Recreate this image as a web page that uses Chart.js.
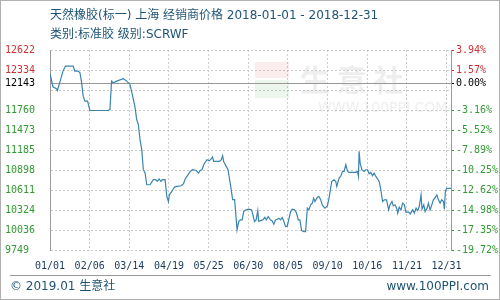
<!DOCTYPE html>
<html>
<head>
<meta charset="utf-8">
<script src="https://cdn.jsdelivr.net/npm/chart.js@4.4.1/dist/chart.umd.min.js"></script>
<style>
  html, body { margin: 0; padding: 0; background: #fff; }
  #wrap { width: 500px; height: 300px; }
</style>
</head>
<body>
<div id="wrap"><canvas id="grafica" width="500" height="300"></canvas></div>
<script>
// textos del encabezado y pie
const titulo1 = "天然橡胶(标一) 上海 经销商价格 2018-01-01 - 2018-12-31";
const titulo2 = "类别:标准胶 级别:SCRWF";
const pieIzq = "© 2019.01 生意社";
const pieDer = "www.100PPI.com";

// eje X: posicion (dias en escala de 360) y etiquetas
const diasTicks = [0, 36, 72, 108, 144, 180, 216, 252, 288, 324, 360];
const fechas = ["01/01", "02/06", "03/14", "04/19", "05/25", "06/30", "08/05", "09/10", "10/16", "11/21", "12/31"];

// eje Y: valores, etiquetas de precio y de porcentaje
const precioBase = 12143;
const yTicks = [12622, 12334, 12143, 12047, 11760, 11473, 11185, 10898, 10611, 10324, 10036, 9749];
const yEtiquetas = ["12622", "12334", "12143", "", "11760", "11473", "11185", "10898", "10611", "10324", "10036", "9749"];
const pctEtiquetas = ["3.94%", "1.57%", "0.00%", "", "-3.16%", "-5.52%", "-7.89%", "-10.25%", "-12.62%", "-14.98%", "-17.35%", "-19.72%"];

// serie de precios
const dias = [0, 2.7, 5.8, 6.7, 8.8, 11.8, 14.0, 21.0, 22.5, 25.5, 27.2, 28.7, 30.1, 31.7, 34.1, 36.2,
  52.8, 54.4, 55.9, 57.4, 60.5, 66.5, 69.6, 72.6, 74.7, 77.1, 78.7, 80.2, 81.7, 83.3, 84.7, 86.3,
  87.8, 90.8, 93.8, 96.0, 97.5, 99.0, 100.6, 102.0, 104.5, 106.0, 107.5, 108.4, 110.6, 113.0, 115.2,
  119.1, 121.2, 122.7, 124.3, 127.3, 129.4, 132.7, 134.8, 136.4, 137.9, 140.0, 142.5, 144.6, 146.4,
  147.6, 148.5, 151.6, 153.7, 155.5, 156.7, 157.6, 159.8, 161.6, 164.3, 165.8, 167.6, 168.3, 169.8,
  171.3, 172.8, 174.4, 175.8, 178.0, 180.4, 182.8, 184.0, 185.6, 187.1, 188.6, 189.5, 191.1, 193.1,
  195.0, 196.3, 198.1, 200.1, 201.7, 203.2, 204.7, 206.3, 207.7, 209.3, 210.8, 212.3, 213.8, 215.4,
  218.4, 219.9, 222.0, 223.6, 225.4, 226.8, 228.4, 230.5, 232.0, 233.6, 235.0, 236.6, 238.1, 239.3,
  240.5, 242.7, 244.1, 245.7, 247.2, 248.7, 249.6, 251.8, 253.3, 255.7, 257.8, 259.4, 260.3, 262.4,
  263.9, 265.5, 267.0, 268.5, 270.1, 271.5, 277.6, 279.1, 280.0, 280.6, 281.5, 283.1, 285.1, 286.7,
  288.2, 289.7, 291.2, 292.8, 294.2, 295.8, 298.8, 300.3, 301.9, 303.4, 305.5, 307.4, 308.6, 310.4,
  311.6, 313.2, 314.7, 315.6, 317.0, 318.6, 320.1, 321.6, 323.1, 325.6, 327.0, 329.2, 330.7, 332.3,
  333.8, 335.2, 336.8, 337.7, 339.3, 340.5, 342.3, 343.5, 345.0, 346.6, 348.0, 349.6, 351.1, 352.6,
  354.1, 355.6, 357.1, 358.0, 358.9, 360.0, 364];
const precios = [12283, 12096, 12067, 12043, 12154, 12320, 12392, 12392, 12320, 12320, 12297, 12154, 11961, 11889, 11889, 11756,
  11756, 11770, 12177, 12154, 12177, 12211, 12177, 12129, 11985, 11810, 11626, 11555, 11339, 11196, 10909, 10861,
  10693, 10693, 10765, 10765, 10741, 10776, 10741, 10765, 10765, 10525, 10453, 10550, 10597, 10660, 10669,
  10678, 10707, 10775, 10812, 10884, 10908, 10898, 10860, 10898, 10908, 10994, 11052, 11037, 11062,
  11091, 11027, 11027, 11027, 11052, 11109, 11027, 10960, 10908, 10640, 10480, 10480, 10340, 10046,
  10166, 10190, 10190, 10309, 10334, 10344, 10334, 10276, 10166, 10190, 10324, 10166, 10180, 10190,
  10228, 10190, 10237, 10190, 10176, 10128, 10190, 10200, 10214, 10190, 10224, 10166, 10094, 10100,
  10309, 10344, 10334, 10295, 10190, 10190, 10036, 10022, 10022, 10358, 10334, 10406, 10430, 10502,
  10453, 10516, 10525, 10480, 10400, 10372, 10358, 10390, 10502, 10740, 10765, 10740, 10668, 10789,
  10812, 10884, 10884, 10980, 10884, 10870, 10870, 10884, 10812, 11171, 11005, 10908, 10884, 10908,
  10908, 10851, 10870, 10822, 10860, 10812, 10740, 10621, 10453, 10477, 10477, 10334, 10406, 10453,
  10390, 10406, 10358, 10286, 10372, 10334, 10430, 10410, 10300, 10300, 10276, 10334, 10290, 10360,
  10324, 10381, 10549, 10344, 10406, 10309, 10358, 10430, 10334, 10406, 10477, 10510, 10549, 10477,
  10430, 10477, 10453, 10342, 10597, 10640, 10640];

// colores de las etiquetas segun el precio base
function colorTick(valor) {
  if (Math.abs(valor - precioBase) < 0.5) return "#000000";
  return valor > precioBase ? "#cc3333" : "#339933";
}

const fuenteTicks = { family: "'DejaVu Sans Mono', monospace", size: 10 };

// plugin para marco, titulos, pie, marca de agua y linea base
const decoracion = {
  id: "decoracion",
  beforeDatasetsDraw(chart) {
    const ctx = chart.ctx;
    const area = chart.chartArea;
    ctx.save();
    // marca de agua
    ctx.fillStyle = "rgba(170,170,170,0.2)";
    ctx.font = "bold 30px 'Noto Sans CJK SC'";
    ctx.textBaseline = "middle";
    ctx.textAlign = "left";
    ctx.fillText("生 意 社", 300, 80);
    ctx.font = "14px 'DejaVu Sans'";
    ctx.fillText("WWW.100PPI.COM", 318, 108);
    ctx.fillStyle = "rgba(220,80,80,0.1)";
    ctx.fillRect(255, 62, 34, 16);
    ctx.fillStyle = "rgba(80,170,80,0.1)";
    ctx.fillRect(255, 80, 34, 18);
    // linea base 0.00%
    const yBase = chart.scales.y.getPixelForValue(precioBase);
    ctx.strokeStyle = "#999999";
    ctx.lineWidth = 1;
    ctx.beginPath();
    ctx.moveTo(area.left, Math.round(yBase) + 0.5);
    ctx.lineTo(area.right, Math.round(yBase) + 0.5);
    ctx.stroke();
    ctx.restore();
  },
  afterDraw(chart) {
    const ctx = chart.ctx;
    ctx.save();
    // titulos
    ctx.fillStyle = "#1f5474";
    ctx.textBaseline = "middle";
    ctx.textAlign = "left";
    ctx.font = "12px 'DejaVu Sans', 'Noto Sans CJK SC'";
    ctx.fillText(titulo1, 50, 16);
    ctx.fillText(titulo2, 50, 35);
    // pie
    ctx.strokeStyle = "#9a9a9a";
    ctx.lineWidth = 1;
    ctx.beginPath();
    ctx.moveTo(10, 275.5);
    ctx.lineTo(491, 275.5);
    ctx.stroke();
    ctx.fillStyle = "#1f5474";
    ctx.font = "12px 'DejaVu Sans', 'Noto Sans CJK SC'";
    ctx.fillText(pieIzq, 10, 287);
    ctx.textAlign = "right";
    ctx.fillText(pieDer, 489, 287);
    // marco exterior
    ctx.strokeStyle = "#b0b0b0";
    ctx.strokeRect(0.5, 0.5, 499, 299);
    ctx.restore();
  }
};

const ctx = document.getElementById("grafica").getContext("2d");
new Chart(ctx, {
  type: "line",
  data: {
    datasets: [{
      label: "价格",
      data: dias.map((d, i) => ({ x: d, y: precios[i] })),
      borderColor: "#3a84ae",
      borderWidth: 1.2,
      pointRadius: 0,
      tension: 0,
      fill: false
    }]
  },
  options: {
    responsive: false,
    animation: false,
    layout: { padding: { top: 50, left: 5, right: 0, bottom: 0 } },
    plugins: {
      legend: { display: false },
      tooltip: { enabled: false }
    },
    scales: {
      x: {
        type: "linear",
        min: 0,
        max: 364,
        afterBuildTicks: scale => { scale.ticks = diasTicks.map(v => ({ value: v })); },
        afterFit: scale => { scale.height = 49.3; },
        ticks: {
          callback: (v, i) => fechas[i],
          color: "#1b3a5c",
          font: fuenteTicks,
          padding: 10,
          maxRotation: 0,
          autoSkip: false
        },
        grid: { color: "#cccccc", drawTicks: false },
        border: { display: false, dash: [2, 2] }
      },
      y: {
        position: "left",
        min: 9749,
        max: 12622,
        afterBuildTicks: scale => { scale.ticks = yTicks.map(v => ({ value: v })); },
        afterFit: scale => { scale.width = 45; },
        ticks: {
          callback: (v, i) => yEtiquetas[i],
          color: c => colorTick(c.tick.value),
          font: fuenteTicks,
          crossAlign: "far",
          autoSkip: false
        },
        grid: {
          color: c => (Math.abs(c.tick.value - precioBase) < 0.5 ? "rgba(0,0,0,0)" : "#cccccc"),
          drawTicks: false
        },
        border: { display: true, color: "#999999", dash: [2, 2] }
      },
      y2: {
        position: "right",
        min: 9749,
        max: 12622,
        afterBuildTicks: scale => { scale.ticks = yTicks.map(v => ({ value: v })); },
        afterFit: scale => { scale.width = 49; },
        ticks: {
          callback: (v, i) => pctEtiquetas[i],
          color: c => colorTick(c.tick.value),
          font: fuenteTicks,
          padding: 2,
          autoSkip: false
        },
        grid: {
          drawOnChartArea: false,
          tickLength: 3,
          tickColor: c => (pctEtiquetas[c.index] === "" ? "rgba(0,0,0,0)" : colorTick(c.tick.value))
        },
        border: { display: true, color: "#999999" }
      }
    }
  },
  plugins: [decoracion]
});
</script>
</body>
</html>
